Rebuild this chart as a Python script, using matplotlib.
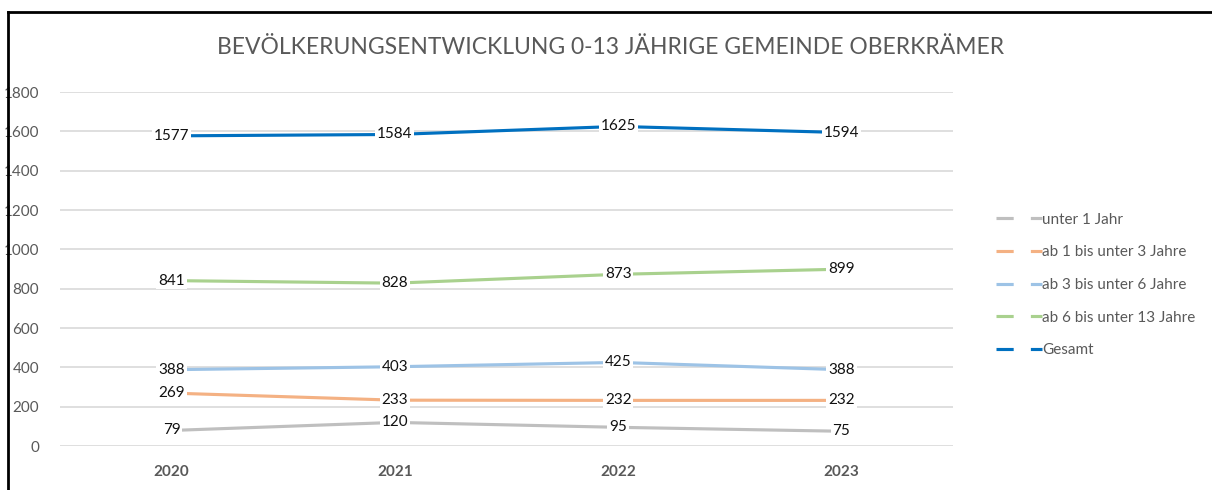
import matplotlib
matplotlib.use("Agg")
import matplotlib.pyplot as plt
from matplotlib.lines import Line2D

years = ["2020", "2021", "2022", "2023"]
series_names = ["unter 1 Jahr", "ab 1 bis unter 3 Jahre", "ab 3 bis unter 6 Jahre",
                "ab 6 bis unter 13 Jahre", "Gesamt"]
unter1 = [79, 120, 95, 75]
ab1_3 = [269, 233, 232, 232]
ab3_6 = [388, 403, 425, 388]
ab6_13 = [841, 828, 873, 899]
gesamt = [1577, 1584, 1625, 1594]
colors = ["#BFBFBF", "#F4B183", "#9DC3E6", "#A9D18E", "#0070C0"]
title = "BEVÖLKERUNGSENTWICKLUNG 0-13 JÄHRIGE GEMEINDE OBERKRÄMER"

plt.rcParams['font.family'] = ['Lato', 'DejaVu Sans']

W, H = 1212, 490
fig = plt.figure(figsize=(W/100, H/100), dpi=100)
ax = fig.add_axes([60/W, 44/H, 893/W, 354/H])

x = list(range(len(years)))
data = [unter1, ab1_3, ab3_6, ab6_13, gesamt]
for vals, c, name in zip(data, colors, series_names):
    ax.plot(x, vals, color=c, lw=2.25, solid_capstyle='round', label=name, zorder=3)
    for xi, v in zip(x, vals):
        ax.text(xi, v, str(v), ha='center', va='center', fontsize=11, color='#111111',
                zorder=5, bbox=dict(boxstyle='square,pad=0.12', fc='white', ec='none'))

ax.set_xlim(-0.5, 3.5)
ax.set_ylim(0, 1800)
ax.set_yticks(range(0, 1801, 200))
ax.set_xticks(x)
ax.set_xticklabels(years, fontweight='bold', fontsize=11, color='#595959')
ax.tick_params(axis='y', labelsize=11, labelcolor='#595959', length=0, pad=15)
ax.tick_params(axis='x', length=0, pad=14)
ax.grid(axis='y', color='#D9D9D9', lw=1.2, zorder=0)
ax.set_axisbelow(True)
for s in ax.spines.values():
    s.set_visible(False)

fig.text(611/W, 1 - 47/H, title, ha='center', va='center', fontsize=16.5, color='#595959')

handles = [Line2D([0], [0], color=c, lw=2.25, linestyle=(0, (5.5, 5.5))) for c in colors]
fig.legend(handles, series_names, loc='upper left', bbox_to_anchor=(982/W, 1 - 199/H),
           frameon=False, fontsize=11, labelcolor='#595959', handlelength=3.0,
           handletextpad=0.05, labelspacing=1.22)

fig.add_artist(Line2D([7.5/W, 7.5/W], [0, 1 - 12.5/H], color='black', lw=2, transform=fig.transFigure))
fig.add_artist(Line2D([7.5/W, 1], [1 - 12.5/H, 1 - 12.5/H], color='black', lw=2, transform=fig.transFigure))

fig.savefig("out.png", dpi=100)
